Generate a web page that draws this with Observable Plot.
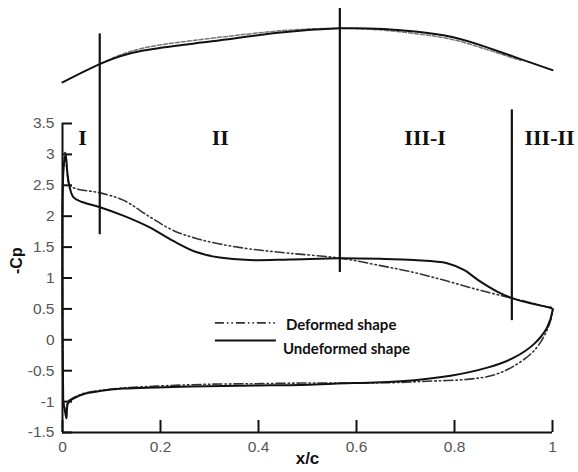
<!DOCTYPE html>
<html>
<head>
<meta charset="utf-8">
<script src="https://cdn.jsdelivr.net/npm/d3@7"></script>
<script src="https://cdn.jsdelivr.net/npm/@observablehq/plot@0.6"></script>
<style>
  body { margin: 0; background: #fff; }
  #chart { width: 578px; height: 472px; }
</style>
</head>
<body>
<div id="chart"></div>
<script>
// ---------- ticks ----------
const xTicks = [0, 0.2, 0.4, 0.6, 0.8, 1];
const xTickLabels = ["0", "0.2", "0.4", "0.6", "0.8", "1"];
const yTicks = [-1.5, -1, -0.5, 0, 0.5, 1, 1.5, 2, 2.5, 3, 3.5];
const yTickLabels = ["-1.5", "-1", "-0.5", "0", "0.5", "1", "1.5", "2", "2.5", "3", "3.5"];

// ---------- Undeformed shape (-Cp) ----------
const undefUpperX  = [0.0015, 0, 0.0005, 0.003, 0.0065, 0.010, 0.014, 0.022, 0.040, 0.075, 0.124, 0.178, 0.226, 0.273, 0.321, 0.382, 0.464, 0.567, 0.649, 0.717, 0.785, 0.819, 0.853, 0.887, 0.919, 0.955, 1.0];
const undefUpperCp = [-1.0, 0.3, 2.45, 2.85, 3.0, 2.7, 2.49, 2.31, 2.23, 2.15, 2.01, 1.82, 1.60, 1.42, 1.33, 1.29, 1.30, 1.32, 1.31, 1.29, 1.24, 1.13, 0.94, 0.78, 0.67, 0.59, 0.50];
const undefLowerX  = [0.0015, 0.005, 0.008, 0.011, 0.02, 0.042, 0.076, 0.124, 0.192, 0.294, 0.396, 0.486, 0.553, 0.690, 0.792, 0.867, 0.921, 0.962, 0.989, 1.0];
const undefLowerCp = [-1.0, -1.15, -1.27, -1.03, -0.96, -0.88, -0.83, -0.79, -0.77, -0.75, -0.74, -0.73, -0.71, -0.67, -0.58, -0.45, -0.29, -0.07, 0.20, 0.47];

// ---------- Deformed shape (-Cp) ----------
const defUpperX  = [0.0015, 0, 0.0005, 0.003, 0.0055, 0.009, 0.0147, 0.03, 0.075, 0.124, 0.178, 0.226, 0.273, 0.321, 0.382, 0.464, 0.567, 0.649, 0.717, 0.785, 0.853, 0.919, 0.955, 0.99, 1.0];
const defUpperCp = [-1.0, 0.3, 2.5, 2.9, 3.05, 2.75, 2.50, 2.44, 2.38, 2.26, 1.99, 1.77, 1.64, 1.55, 1.47, 1.40, 1.32, 1.20, 1.09, 0.95, 0.80, 0.67, 0.60, 0.53, 0.52];
const defLowerX  = [0.0015, 0.005, 0.008, 0.011, 0.02, 0.042, 0.076, 0.124, 0.192, 0.294, 0.396, 0.486, 0.553, 0.690, 0.744, 0.826, 0.88, 0.92, 0.962, 0.988, 1.0];
const defLowerCp = [-1.0, -1.12, -1.2, -1.0, -0.95, -0.87, -0.82, -0.78, -0.75, -0.72, -0.71, -0.70, -0.70, -0.69, -0.67, -0.64, -0.57, -0.43, -0.18, 0.14, 0.45];

// ---------- Airfoil upper surface sketch (in -Cp axis units, above the frame) ----------
const airfoilX    = [0, 0.078, 0.165, 0.305, 0.445, 0.567, 0.655, 0.725, 0.795, 0.865, 0.935, 1.0];
const airfoilY    = [4.165, 4.469, 4.681, 4.83, 4.974, 5.04, 5.03, 4.985, 4.90, 4.736, 4.542, 4.364];
const airfoilDefX = [0.078, 0.165, 0.305, 0.445, 0.567, 0.655, 0.725, 0.795, 0.865, 0.935];
const airfoilDefY = [4.47, 4.72, 4.88, 5.0, 5.04, 5.01, 4.95, 4.86, 4.70, 4.52];

// ---------- Region boundaries and labels ----------
const boundX      = [0.076, 0.566, 0.917];
const boundBottom = [1.7, 1.09, 0.31];
const boundTop    = [4.95, 5.36, 3.72];
const regionNames = ["I", "II", "III-I", "III-II"];
const regionX     = [0.041, 0.322, 0.74, 0.994];
const regionY     = [3.27, 3.27, 3.27, 3.27];

const seriesNames = ["Deformed shape", "Undeformed shape"];

// ---------- build tables ----------
const rows = (xs, ys) => xs.map((x, i) => ({x, y: ys[i]}));
const undefPath = [...rows(undefUpperX, undefUpperCp), ...rows(undefLowerX, undefLowerCp).reverse()];
const defPath   = [...rows(defUpperX, defUpperCp), ...rows(defLowerX, defLowerCp).reverse()];
const airfoil    = rows(airfoilX, airfoilY);
const airfoilDef = rows(airfoilDefX, airfoilDefY);
const bounds  = boundX.map((x, i) => ({x, y1: boundBottom[i], y2: boundTop[i]}));
const regions = regionNames.map((t, i) => ({t, x: regionX[i], y: regionY[i]}));

const dashDotDot = "9,3,1.5,3,1.5,3";
const xDomain = [0, 1], yDomain = [-1.5, 3.5];
const frameW = 578 - 62 - 26, frameH = 472 - 123 - 40;
// inward tick lengths (10 px and 12 px) expressed in data units
const yTickLen = 10 * (xDomain[1] - xDomain[0]) / frameW;
const xTickLen = 12 * (yDomain[1] - yDomain[0]) / frameH;

const plot = Plot.plot({
  width: 578,
  height: 472,
  marginLeft: 62,
  marginRight: 26,
  marginTop: 123,
  marginBottom: 40,
  style: {fontFamily: "'Liberation Sans', Arial, sans-serif", overflow: "visible"},
  x: {domain: xDomain},
  y: {domain: yDomain},
  marks: [
    // tick labels
    Plot.axisY({ticks: yTicks, tickSize: 0, tickPadding: 8, fontSize: 15.5, fill: "#555",
      tickFormat: d => yTickLabels[yTicks.indexOf(d)], label: null}),
    Plot.axisX({ticks: xTicks, tickSize: 0, tickPadding: 8, fontSize: 15.5, fill: "#555",
      tickFormat: d => xTickLabels[xTicks.indexOf(d)], label: null}),
    // axis lines
    Plot.ruleX([0], {stroke: "#111", strokeWidth: 2}),
    Plot.ruleY([-1.5], {stroke: "#111", strokeWidth: 2}),
    // inward tick marks
    Plot.ruleY(yTicks, {y: d => d, x1: xDomain[0], x2: xDomain[0] + yTickLen, stroke: "#111", strokeWidth: 2}),
    Plot.ruleX(xTicks, {x: d => d, y1: yDomain[0], y2: yDomain[0] + xTickLen, stroke: "#111", strokeWidth: 2}),
    // axis titles
    Plot.text(["-Cp"], {frameAnchor: "left", dx: -46, dy: -4, rotate: -90, fontSize: 16, fontWeight: "bold", fill: "#111"}),
    Plot.text(["x/c"], {frameAnchor: "bottom", dy: 31, fontSize: 17, fontWeight: "bold", fill: "#111"}),
    // airfoil sketch
    Plot.line(airfoilDef, {x: "x", y: "y", curve: "natural", stroke: "#777", strokeWidth: 1.5, strokeDasharray: "4,2"}),
    Plot.line(airfoil, {x: "x", y: "y", curve: "natural", stroke: "#111", strokeWidth: 2}),
    // Cp curves
    Plot.line(defPath, {x: "x", y: "y", curve: "catmull-rom", stroke: "#333", strokeWidth: 1.6, strokeDasharray: dashDotDot}),
    Plot.line(undefPath, {x: "x", y: "y", curve: "catmull-rom", stroke: "#111", strokeWidth: 2}),
    // region boundaries
    Plot.ruleX(bounds, {x: "x", y1: "y1", y2: "y2", stroke: "#111", strokeWidth: 2.2}),
    // region labels
    Plot.text(regions, {x: "x", y: "y", text: "t", fontFamily: "'Liberation Serif', 'Times New Roman', serif",
      fontWeight: "bold", fontSize: 22, fill: "#111", lineAnchor: "middle"})
  ]
});

document.getElementById("chart").appendChild(plot);

// ---------- legend (inside the frame) ----------
const legendAt = {x: 0.312, y: 0.265};
const sx = plot.scale("x"), sy = plot.scale("y");
const lx = sx.apply(legendAt.x), ly = sy.apply(legendAt.y);
const svg = d3.select(plot);
const g = svg.append("g").attr("font-family", "Lato, 'Open Sans', sans-serif").attr("font-weight", "bold")
  .attr("font-size", 15).attr("fill", "#111").attr("text-anchor", "start");
g.append("line").attr("x1", lx).attr("x2", lx + 60).attr("y1", ly).attr("y2", ly)
  .attr("stroke", "#333").attr("stroke-width", 1.8).attr("stroke-dasharray", dashDotDot);
g.append("line").attr("x1", lx).attr("x2", lx + 61).attr("y1", ly + 17.5).attr("y2", ly + 17.5)
  .attr("stroke", "#111").attr("stroke-width", 2);
g.append("text").attr("x", lx + 71).attr("y", ly + 1.5).attr("dy", "0.35em").text(seriesNames[0]);
g.append("text").attr("x", lx + 68).attr("y", ly + 26).attr("dy", "0.35em").text(seriesNames[1]);
</script>
</body>
</html>
